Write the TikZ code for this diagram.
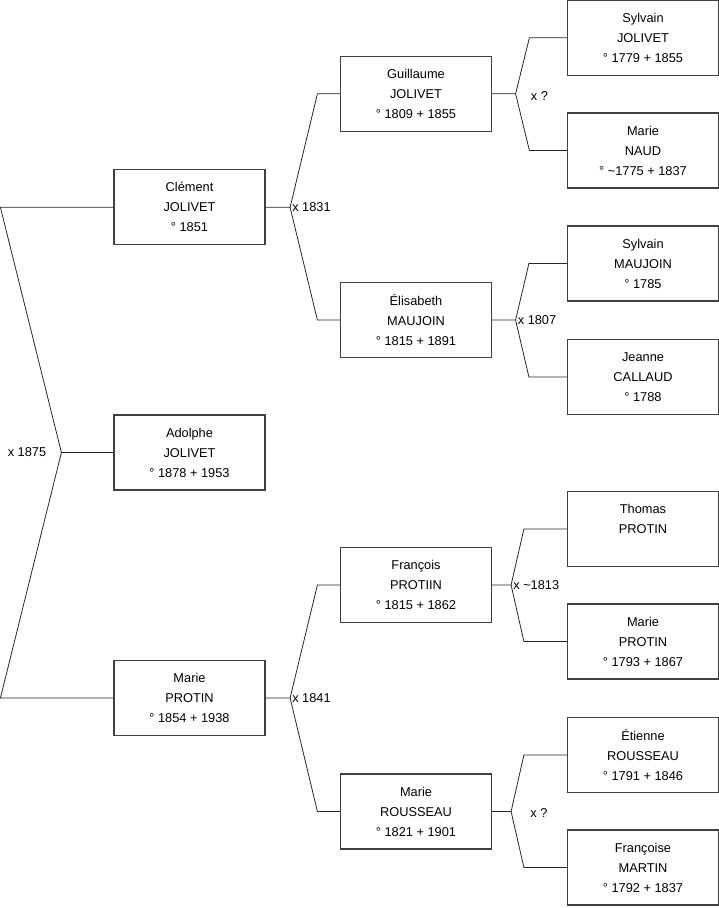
\documentclass[tikz,border=0pt]{standalone}
\usepackage{fontspec}
\setmainfont{Liberation Sans}
\usepackage{tikz}
\usetikzlibrary{positioning}

\begin{document}
\begin{tikzpicture}[
  x=1pt, y=-1pt,
  person/.style={rectangle, draw=black!75, line width=1.2pt, minimum width=151pt,
                 minimum height=75pt, inner sep=0pt, align=center,
                 font=\fontsize{12.8}{20}\selectfont},
  link/.style={line width=0.8pt, black!85},
  wed/.style={font=\fontsize{12.8}{15}\selectfont, inner sep=2pt},
]
  \useasboundingbox (0,0) rectangle (719,908);

  % Nodes
  \node[person] (adolphe)   at (189.5,452.5) {Adolphe\\JOLIVET\\° 1878 + 1953};
  \node[person] (clement)   at (189.5,207.3) {Clément\\JOLIVET\\° 1851};
  \node[person] (marie)     at (189.5,698)   {Marie\\PROTIN\\° 1854 + 1938};

  \node[person] (guillaume) at (416,93.8)    {Guillaume\\JOLIVET\\° 1809 + 1855};
  \node[person] (elisabeth) at (416,320)     {Élisabeth\\MAUJOIN\\° 1815 + 1891};
  \node[person] (francois)  at (416,585)     {François\\PROTIIN\\° 1815 + 1862};
  \node[person] (marieR)    at (416,811.5)   {Marie\\ROUSSEAU\\° 1821 + 1901};

  \node[person] (sylvainJ)  at (643,37.7)    {Sylvain\\JOLIVET\\° 1779 + 1855};
  \node[person] (marieN)    at (643,150.5)   {Marie\\NAUD\\° \textasciitilde1775 + 1837};
  \node[person] (sylvainM)  at (643,263.5)   {Sylvain\\MAUJOIN\\° 1785};
  \node[person] (jeanne)    at (643,377)     {Jeanne\\CALLAUD\\° 1788};
  \node[person] (thomas)    at (643,529)     {Thomas\\PROTIN\\\mbox{}};
  \node[person] (marieP)    at (643,641.5)   {Marie\\PROTIN\\° 1793 + 1867};
  \node[person] (etienne)   at (643,755)     {Étienne\\ROUSSEAU\\° 1791 + 1846};
  \node[person] (francoise) at (643,867.5)   {Françoise\\MARTIN\\° 1792 + 1837};

  % Parents of Adolphe
  \draw[link] (clement.west) -- ++(-113,0) -- ([xshift=-52]adolphe.west) coordinate (ja) -- (adolphe.west);
  \draw[link] (ja) -- ([xshift=-113]marie.west) -- (marie.west);
  \node[wed, left] at ([xshift=-13]ja) {x 1875};

  % Parents of Clément
  \draw[link] (clement.east) -- ++(24.5,0) coordinate (jc) -- ([xshift=-22.5]guillaume.west) -- (guillaume.west);
  \draw[link] (jc) -- ([xshift=-22.5]elisabeth.west) -- (elisabeth.west);
  \node[wed, right] at (jc) {x 1831};

  % Parents of Marie
  \draw[link] (marie.east) -- ++(24.5,0) coordinate (jm) -- ([xshift=-22.5]francois.west) -- (francois.west);
  \draw[link] (jm) -- ([xshift=-22.5]marieR.west) -- (marieR.west);
  \node[wed, right] at (jm) {x 1841};

  % Parents of Guillaume
  \draw[link] (guillaume.east) -- ++(23.5,0) coordinate (jg) -- ([xshift=-37.5]sylvainJ.west) -- (sylvainJ.west);
  \draw[link] (jg) -- ([xshift=-37.5]marieN.west) -- (marieN.west);
  \node[wed, right] at ([xshift=13,yshift=-2]jg) {x ?};

  % Parents of Élisabeth
  \draw[link] (elisabeth.east) -- ++(23.5,0) coordinate (je) -- ([xshift=-38]sylvainM.west) -- (sylvainM.west);
  \draw[link] (je) -- ([xshift=-38]jeanne.west) -- (jeanne.west);
  \node[wed, right] at (je) {x 1807};

  % Parents of François
  \draw[link] (francois.east) -- ++(19,0) coordinate (jf) -- ([xshift=-43]thomas.west) -- (thomas.west);
  \draw[link] (jf) -- ([xshift=-43]marieP.west) -- (marieP.west);
  \node[wed, right] at (jf) {x \textasciitilde1813};

  % Parents of Marie Rousseau
  \draw[link] (marieR.east) -- ++(19,0) coordinate (jr) -- ([xshift=-43]etienne.west) -- (etienne.west);
  \draw[link] (jr) -- ([xshift=-43]francoise.west) -- (francoise.west);
  \node[wed, right] at ([xshift=17,yshift=-2]jr) {x ?};
\end{tikzpicture}
\end{document}
